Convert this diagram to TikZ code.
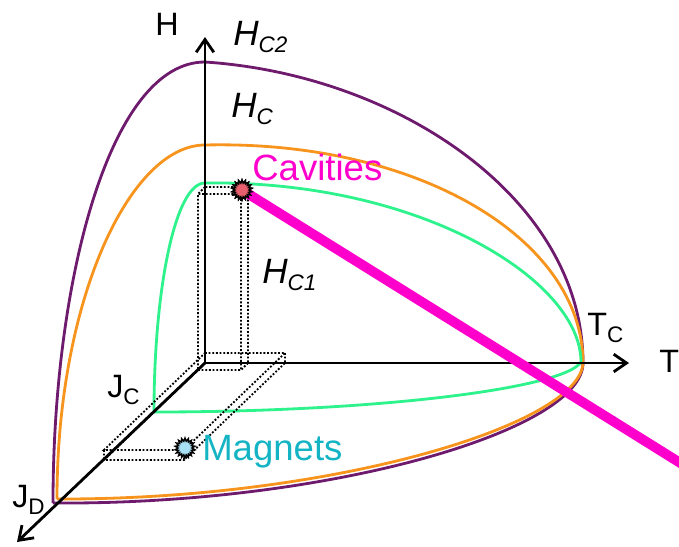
\documentclass[tikz,border=0pt]{standalone}
\usepackage{fontspec}
\setmainfont{Liberation Sans}
\usetikzlibrary{arrows.meta,shapes.geometric}
\definecolor{HCtwoPurple}{HTML}{6E1B6E}
\definecolor{HCOrange}{HTML}{F7941D}
\definecolor{HConeGreen}{HTML}{2EF28C}
\definecolor{CavMagenta}{HTML}{FF00CC}
\definecolor{MagTeal}{HTML}{14B4C4}
\definecolor{CavRed}{HTML}{E8606E}
\definecolor{MagBlue}{HTML}{A8E0F4}
\newcommand{\lsub}[1]{\raisebox{-5pt}{\fontsize{16}{16}\selectfont #1}}

\begin{document}
\begin{tikzpicture}[
    x=0.025cm, y=-0.025cm,
    axis/.style={-{Straight Barb[length=3.2mm,width=4.4mm]}, line width=2pt, black},
    crit/.style={line width=2pt},
    dotbox/.style={line width=1.3pt, dash pattern=on 1.3pt off 1.3pt, black},
    beam/.style={line width=7pt, CavMagenta},
    spot/.style={star, star points=18, star point ratio=1.45, minimum size=0.5cm,
      inner sep=0pt, draw=black, line width=1pt},
    lbl/.style={anchor=base west, inner sep=0pt, font=\fontsize{23}{27}\selectfont},
    hlbl/.style={anchor=base west, inner sep=0pt, font=\fontsize{25}{29}\selectfont\itshape},
    big/.style={anchor=base west, inner sep=0pt, font=\fontsize{26}{30}\selectfont}
  ]
  \useasboundingbox (0,0) rectangle (679,547);

  % axes end points
  \coordinate (O) at (205,363);
  \coordinate (Htip) at (205,37);
  \coordinate (Ttip) at (629,363);
  \coordinate (Jtip) at (17,542);

  % critical surfaces: J, H and T corners
  \coordinate (JDp) at (53,503);   \coordinate (Hp) at (205,62);  \coordinate (Tp) at (583,363);
  \coordinate (JDo) at (57,499);   \coordinate (Ho) at (205,145); \coordinate (To) at (583,363);
  \coordinate (JC) at (154,412);   \coordinate (Hg) at (205,183); \coordinate (Tg) at (581,362);

  \draw[crit, HCtwoPurple] (JDp) .. controls (53,280) and (110,62) .. (Hp)
    .. controls (400,75) and (583,200) .. (Tp)
    .. controls (583,430) and (330,505) .. (JDp);
  \draw[crit, HCOrange] (JDo) .. controls (57,300) and (130,145) .. (Ho)
    .. controls (420,140) and (583,240) .. (To)
    .. controls (580,425) and (330,500) .. (JDo);
  \draw[crit, HConeGreen] (JC) .. controls (154,290) and (175,183) .. (Hg)
    .. controls (420,180) and (581,280) .. (Tg)
    .. controls (565,388) and (380,412) .. (JC);

  % dotted boxes
  \draw[dotbox] (205,363) -- (248,363) -- (248,187) -- (205,187) -- cycle
    (198,370) -- (241,370) -- (241,194) -- (198,194) -- cycle
    (205,363) -- (198,370) (248,363) -- (241,370)
    (248,187) -- (241,194) (205,187) -- (198,194);
  \draw[dotbox] (205,353) -- (285,353) -- (184,450) -- (104,450) -- cycle
    (205,363) -- (285,363) -- (184,460) -- (104,460) -- cycle
    (205,353) -- (205,363) (285,353) -- (285,363)
    (184,450) -- (184,460) (104,450) -- (104,460);

  % axes
  \draw[axis] (O) -- (Htip);
  \draw[axis] (O) -- (Ttip);
  \draw[axis] (O) -- (Jtip);

  % operating points
  \coordinate (beamEnd) at (690,469);
  \node[spot, fill=CavRed] (cav) at (242,190) {};
  \draw[beam] (cav.center) -- (beamEnd);
  \node[spot, fill=CavRed] at (cav) {};
  \node[spot, fill=MagBlue] (mag) at (185,448) {};

  % labels
  \node[lbl] (labH) at (155,35) {H};
  \node[lbl] (labT) at (659,372) {T};
  \node[lbl] (labTC) at (587,335) {T\lsub{C}};
  \node[lbl] (labJC) at (107,397) {J\lsub{C}};
  \node[lbl] (labJD) at (12,507) {J\lsub{D}};
  \node[hlbl] (labHCtwo) at (233,45) {H\lsub{\itshape C2}};
  \node[hlbl] (labHC) at (231,117) {H\lsub{\itshape C}};
  \node[hlbl] (labHCone) at (262,283) {H\lsub{\itshape C1}};
  \node[big, text=CavMagenta] (labCav) at (252,180) {Cavities};
  \node[big, text=MagTeal] (labMag) at (202,460) {Magnets};
\end{tikzpicture}
\end{document}
